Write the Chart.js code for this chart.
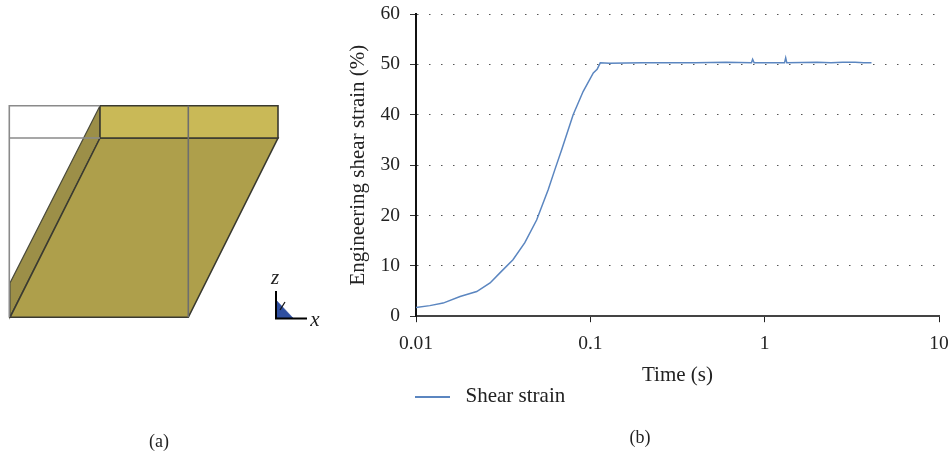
<!DOCTYPE html>
<html>
<head>
<meta charset="utf-8">
<script src="https://cdn.jsdelivr.net/npm/chart.js@4"></script>
<style>
  html, body { margin: 0; padding: 0; background: #fff; }
  body { width: 950px; height: 456px; position: relative; overflow: hidden; font-family: "Liberation Serif", serif; color: #222; }
  canvas { position: absolute; top: 0; }
  .lbl { position: absolute; font-size: 18px; line-height: 20px; transform: translateX(-50%); }
  .axis { font-style: italic; font-size: 21px; }
</style>
</head>
<body>
<div style="position:absolute;left:0;top:0;width:340px;height:456px"><canvas id="shape"></canvas></div>
<div style="position:absolute;left:340px;top:0;width:610px;height:456px"><canvas id="strain"></canvas></div>
<div class="lbl" style="left:159px;top:431px">(a)</div>
<div class="lbl" style="left:640px;top:427px">(b)</div>
<div class="lbl axis" style="left:275px;top:267px">z</div>
<div class="lbl axis" style="left:315px;top:309px">x</div>
<script>
// time (s) and engineering shear strain (%)
const times = [0.01, 0.012, 0.0143, 0.0179, 0.0223, 0.0266, 0.0303, 0.036, 0.0421, 0.0492,
  0.0573, 0.0626, 0.0684, 0.0797, 0.0909, 0.104, 0.1094, 0.114, 0.129, 0.2, 0.4, 0.6, 0.84, 0.853, 0.87,
  1.3, 1.32, 1.34, 2.0, 2.4, 2.8, 3.3, 3.7, 4.1];
const strain = [1.75, 2.1, 2.6, 3.9, 4.9, 6.6, 8.6, 11.2, 14.6, 19.1,
  25.1, 29.1, 33, 40, 44.6, 48.3, 49, 50.3, 50.2, 50.3, 50.3, 50.4, 50.3, 51, 50.3,
  50.3, 51.3, 50.3, 50.4, 50.3, 50.4, 50.4, 50.3, 50.3];
const timeTicks = [0.01, 0.1, 1, 10];
const strainMax = 60;
const strainStep = 10;
const seriesName = 'Shear strain';

// panel (a), sheared block outline in page pixels
const topFace = [[100, 105.7], [278, 105.7], [278, 138], [100, 138], [100, 105.7]];
const frontFace = [[100, 138], [278, 138], [188.3, 317.3], [10, 317.3], [100, 138]];
const sideFace = [[100, 105.7], [100, 138], [10, 317.3], [10, 283], [100, 105.7]];
const frameBox = [[9.3, 317.3], [9.3, 105.7], [100, 105.7]];
const frameMid = [[9.3, 138], [100, 138]];
const frameVert = [[188.3, 105.7], [188.3, 317.3]];
const triad = [[276, 291], [276, 318.5], [307, 318.5]];
const triadFill = [[277, 301], [293, 318], [277, 318], [277, 301]];
const triadTick = [[280, 310], [285, 302]];

const lineColor = '#5b86c0';
const fontFamily = '"Liberation Serif", serif';
const tickFont = { family: fontFamily, size: 19.5 };
const wideFont = { family: fontFamily, size: 21 };
const toPts = arr => arr.map(p => ({ x: p[0], y: p[1] }));

function poly(pts, fillCol, edgeCol, w) {
  return {
    data: toPts(pts), showLine: true, pointRadius: 0, tension: 0,
    borderColor: edgeCol, borderWidth: w,
    backgroundColor: fillCol || 'transparent',
    fill: fillCol ? 'shape' : false
  };
}

new Chart(document.getElementById('shape'), {
  type: 'scatter',
  data: {
    datasets: [
      poly(frameVert, null, '#6e6e6e', 1.6),
      poly(frameMid, null, '#8a8a8a', 1.6),
      poly(frameBox, null, '#8a8a8a', 1.6),
      poly(triadTick, null, '#111', 1.2),
      poly(triad, null, '#000', 2),
      poly(triadFill, '#2f4fa0', '#2f4fa0', 0.5),
      poly(topFace, '#c9b957', '#3a3a30', 1.6),
      poly(frontFace, '#ae9f4b', '#3a3a30', 1.6),
      poly(sideFace, '#9c8f48', '#4a4a3a', 1.2)
    ]
  },
  options: {
    responsive: true, maintainAspectRatio: false, animation: false,
    layout: { padding: 0 },
    plugins: { legend: { display: false }, tooltip: { enabled: false } },
    scales: {
      x: { type: 'linear', display: false, min: 0, max: 340 },
      y: { type: 'linear', display: false, min: 0, max: 456, reverse: true }
    }
  }
});

// legend swatch, narrower than its box so the label sits further right
const swatch = document.createElement('canvas');
swatch.width = 35;
swatch.height = 2;
const swatchCtx = swatch.getContext('2d');
swatchCtx.fillStyle = lineColor;
swatchCtx.fillRect(0, 0, 35, 2);

// keep the legend under the plot instead of at the canvas edge
const legendPlace = {
  id: 'legendPlace',
  afterLayout(chart) {
    chart.legend.left = chart.chartArea.left - 16;
    chart.legend.top -= 12.5;
  }
};

// tick labels may hang past the plot, layout padding alone sets its box
function noOverhang(ax) {
  ax.paddingTop = ax.paddingBottom = ax.paddingLeft = ax.paddingRight = 0;
}

new Chart(document.getElementById('strain'), {
  type: 'line',
  data: {
    labels: times,
    datasets: [{
      label: seriesName,
      data: strain,
      borderColor: lineColor,
      backgroundColor: lineColor,
      borderWidth: 1.5,
      pointRadius: 0,
      tension: 0
    }]
  },
  options: {
    responsive: true, maintainAspectRatio: false, animation: false,
    layout: { padding: { top: 14, right: 11, bottom: 26.5, left: 5.5 } },
    plugins: {
      tooltip: { enabled: false },
      legend: {
        position: 'bottom', align: 'start',
        labels: { usePointStyle: true, pointStyle: swatch, pointStyleWidth: 45, padding: 10, color: '#222', font: wideFont }
      }
    },
    scales: {
      x: {
        type: 'logarithmic', min: 0.01, max: 10,
        afterBuildTicks(ax) { ax.ticks = timeTicks.map(v => ({ value: v })); },
        afterFit(ax) { noOverhang(ax); ax.height = 72.3; },
        title: { display: true, text: 'Time (s)', color: '#222', font: wideFont, padding: { top: 0.5, bottom: 0 } },
        border: { color: '#444', width: 2 },
        grid: { drawOnChartArea: false, drawTicks: true, tickLength: 6, color: '#222' },
        ticks: { color: '#222', font: tickFont, maxRotation: 0, autoSkip: false, padding: 10, callback: v => String(v) }
      },
      y: {
        min: 0, max: strainMax,
        afterFit(ax) { noOverhang(ax); ax.width = 70.5; },
        title: { display: true, text: 'Engineering shear strain (%)', color: '#222', font: wideFont, padding: { top: 0, bottom: 3 } },
        border: { color: '#111', width: 2, dash: [1.5, 10.5] },
        grid: { color: '#555', lineWidth: 1, tickLength: 6, tickColor: '#333', tickBorderDash: [] },
        ticks: { color: '#222', font: tickFont, stepSize: strainStep, padding: 10 }
      }
    }
  },
  plugins: [legendPlace]
});
</script>
</body>
</html>
